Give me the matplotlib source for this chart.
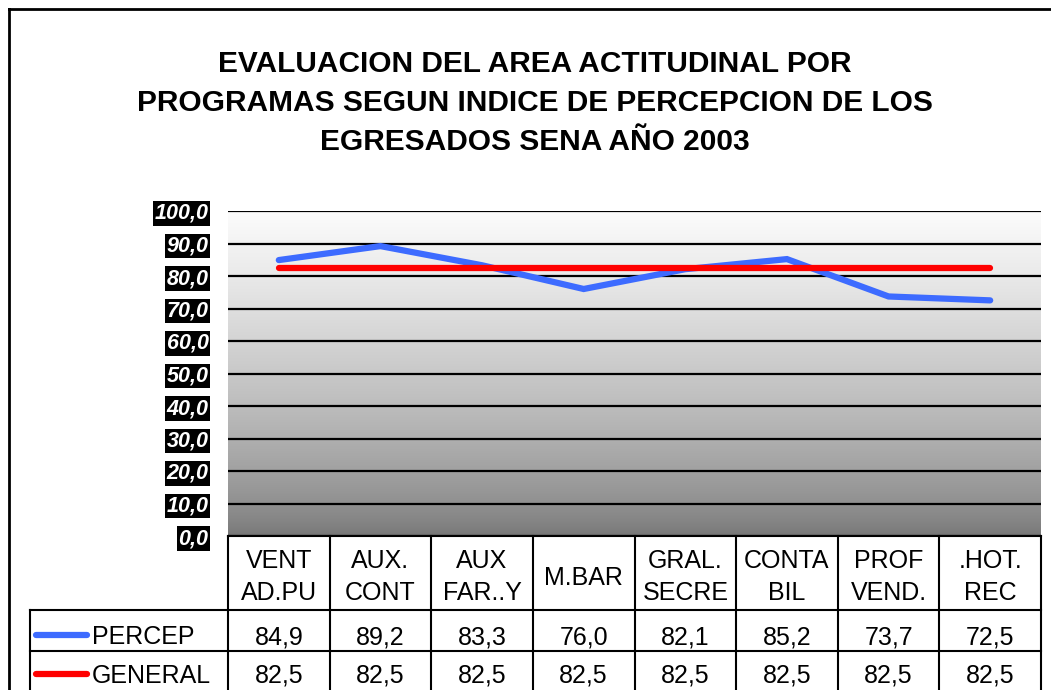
import matplotlib
matplotlib.use("Agg")
import matplotlib.pyplot as plt
import numpy as np

programas = ["VENT\nAD.PU", "AUX.\nCONT", "AUX\nFAR..Y", "M.BAR",
             "GRAL.\nSECRE", "CONTA\nBIL", "PROF\nVEND.", ".HOT.\nREC"]
percep = [84.9, 89.2, 83.3, 76.0, 82.1, 85.2, 73.7, 72.5]
general = [82.5, 82.5, 82.5, 82.5, 82.5, 82.5, 82.5, 82.5]
series_names = ["PERCEP", "GENERAL"]
series_colors = ["#3d6bff", "#ff0000"]
y_ticks = [0, 10, 20, 30, 40, 50, 60, 70, 80, 90, 100]
titulo = ["EVALUACION DEL AREA ACTITUDINAL POR",
          "PROGRAMAS SEGUN INDICE DE PERCEPCION DE LOS",
          "EGRESADOS SENA AÑO 2003"]

plt.rcParams["font.family"] = ["Liberation Sans", "DejaVu Sans"]

W, H = 1051, 690
fig = plt.figure(figsize=(W / 100, H / 100), dpi=100)

# plot area in pixel coordinates
px_left, px_right, px_top, px_bottom = 228, 1041, 211, 536
ax = fig.add_axes([px_left / W, 1 - px_bottom / H,
                   (px_right - px_left) / W, (px_bottom - px_top) / H])
n = len(programas)
ax.set_xlim(-0.5, n - 0.5)
ax.set_ylim(0, 100)

# gradient background: light at top, grey at bottom
t = np.linspace(0, 1, 256).reshape(-1, 1)
shade = 0.46 + 0.53 * t ** 0.7
ax.imshow(np.dstack([shade, shade, shade]), extent=(-0.5, n - 0.5, 0, 100),
          origin="lower", aspect="auto", zorder=0)

for yv in y_ticks:
    ax.axhline(yv, color="black", lw=1.6, zorder=1)

x = np.arange(n)
for vals, color in zip([percep, general], series_colors):
    ax.plot(x, vals, color=color, lw=4.5, solid_capstyle="round",
            solid_joinstyle="miter", zorder=3)

for s in ax.spines.values():
    s.set_visible(False)
ax.set_xticks([])
ax.set_yticks(y_ticks)
ax.set_yticklabels([f"{v:.1f}".replace(".", ",") for v in y_ticks])
ax.tick_params(axis="y", length=0, pad=14)
for lbl in ax.get_yticklabels():
    lbl.set_color("white")
    lbl.set_fontsize(15.5)
    lbl.set_fontweight("bold")
    lbl.set_fontstyle("italic")
    lbl.set_bbox(dict(facecolor="black", edgecolor="none",
                      boxstyle="square,pad=0.08"))

# overlay in pixel coordinates for title, table and border
ov = fig.add_axes([0, 0, 1, 1], facecolor="none")
ov.set_xlim(0, W)
ov.set_ylim(H, 0)
ov.axis("off")

ov.plot([9, W + 5, W + 5, 9, 9], [9, 9, H + 5, H + 5, 9],
        color="black", lw=2, clip_on=False)

for line, base in zip(titulo, [72, 111, 150]):
    ov.text(535, base, line, ha="center", va="baseline",
            fontsize=21.5, fontweight="bold")

col_w = (px_right - px_left) / n
edges = [px_left + i * col_w for i in range(n + 1)]
lc = "black"
lw = 1.5
ov.plot([px_left, px_right], [px_bottom, px_bottom], color=lc, lw=lw)
ov.plot([30, px_right], [610, 610], color=lc, lw=lw)
ov.plot([30, px_right], [651, 651], color=lc, lw=lw)
ov.plot([30, 30], [610, H + 5], color=lc, lw=lw, clip_on=False)
for e in edges:
    ov.plot([e, e], [px_bottom, H + 5], color=lc, lw=lw, clip_on=False)

fs = 18
for i, lab in enumerate(programas):
    cx = (edges[i] + edges[i + 1]) / 2
    parts = lab.split("\n")
    bases = [568, 600] if len(parts) == 2 else [585]
    for p, b in zip(parts, bases):
        ov.text(cx, b, p, ha="center", va="baseline", fontsize=fs)

for r, (name, vals, color) in enumerate(zip(series_names, [percep, general],
                                            series_colors)):
    base = [644, 683][r]
    ymid = [635, 674][r]
    ov.plot([36, 87], [ymid, ymid], color=color, lw=4.5,
            solid_capstyle="round")
    ov.text(92, base, name, ha="left", va="baseline", fontsize=fs)
    for i, v in enumerate(vals):
        cx = (edges[i] + edges[i + 1]) / 2
        ov.text(cx, base, f"{v:.1f}".replace(".", ","), ha="center",
                va="baseline", fontsize=fs)

fig.savefig("out.png", dpi=100)
